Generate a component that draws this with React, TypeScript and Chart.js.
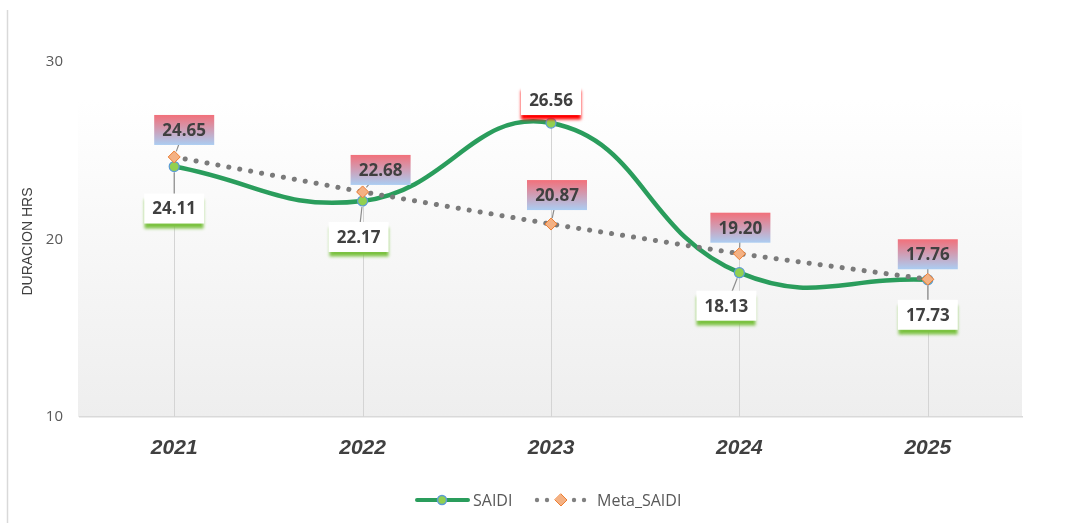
import React, { useEffect, useRef } from "react";
import { Chart, registerables } from "chart.js";

Chart.register(...registerables);

const CATEGORIES = ["2021", "2022", "2023", "2024", "2025"];
const SAIDI = [24.11, 22.17, 26.56, 18.13, 17.73];
const META_SAIDI = [24.65, 22.68, 20.87, 19.2, 17.76];
const Y_MIN = 10;
const Y_MAX = 30;
const Y_STEP = 10;
const Y_TITLE = "DURACION HRS";
const SERIES_NAMES = ["SAIDI", "Meta_SAIDI"];

// label offsets relative to each point (style, not data)
const LABEL_OFFSETS = [
  [[0, 42], [-4, 36], [0, -23], [-13, 33], [0, 35]],
  [[10, -27], [18, -22], [6, -29], [1, -26], [0, -25]],
];

const GREEN = "#2a9d5c";
const FONT = "'Open Sans', 'Liberation Sans', sans-serif";

const decorPlugin = {
  id: "decor",
  beforeDraw(chart: any) {
    const { ctx, chartArea } = chart;
    ctx.save();
    ctx.strokeStyle = "#d9d9d9";
    ctx.lineWidth = 1.5;
    ctx.beginPath();
    ctx.moveTo(7.5, 10);
    ctx.lineTo(7.5, 523);
    ctx.stroke();
    const top = chartArea.top + 38;
    const g = ctx.createLinearGradient(0, top, 0, chartArea.bottom);
    g.addColorStop(0, "#ffffff");
    g.addColorStop(1, "#eeeeee");
    ctx.fillStyle = g;
    ctx.fillRect(chartArea.left - 2, top, chartArea.right - chartArea.left + 2, chartArea.bottom - top);
    ctx.translate(28, (chartArea.top + chartArea.bottom) / 2 + 2);
    ctx.rotate(-Math.PI / 2);
    ctx.fillStyle = "#404040";
    ctx.font = `14px 'Liberation Sans', sans-serif`;
    ctx.textAlign = "center";
    ctx.textBaseline = "middle";
    ctx.fillText(Y_TITLE, 0, 0);
    ctx.restore();
  },
  beforeDatasetsDraw(chart: any) {
    const { ctx, chartArea } = chart;
    const m0 = chart.getDatasetMeta(0).data;
    const m1 = chart.getDatasetMeta(1).data;
    ctx.save();
    ctx.strokeStyle = "#d4d4d4";
    ctx.lineWidth = 1;
    m0.forEach((p: any, i: number) => {
      const yTop = Math.min(p.y, m1[i].y);
      const x = Math.round(p.x) + 0.5;
      ctx.beginPath();
      ctx.moveTo(x, yTop);
      ctx.lineTo(x, chartArea.bottom);
      ctx.stroke();
    });
    ctx.restore();
  },
  afterDatasetsDraw(chart: any) {
    const { ctx } = chart;
    const W = 60, H = 30;
    [0, 1].forEach((di) => {
      const meta = chart.getDatasetMeta(di);
      const values = di === 0 ? SAIDI : META_SAIDI;
      meta.data.forEach((pt: any, i: number) => {
        const [dx, dy] = LABEL_OFFSETS[di][i];
        const cx = pt.x + dx;
        const cy = pt.y + dy;
        const dist = Math.hypot(dx, dy);
        ctx.save();
        ctx.strokeStyle = "#8c8c8c";
        ctx.lineWidth = 1.2;
        ctx.beginPath();
        ctx.moveTo(pt.x + (dx / dist) * 6, pt.y + (dy / dist) * 6);
        ctx.lineTo(cx, cy);
        ctx.stroke();
        ctx.restore();
        const x0 = cx - W / 2, y0 = cy - H / 2;
        ctx.save();
        if (di === 0) {
          ctx.shadowColor = i === 2 ? "#ff0000" : "#7cc242";
          ctx.shadowOffsetY = 5;
          ctx.shadowBlur = 3;
          ctx.fillStyle = "#ffffff";
          ctx.fillRect(x0, y0, W, H);
        } else {
          const g = ctx.createLinearGradient(0, y0, 0, y0 + H);
          g.addColorStop(0, "#f2707a");
          g.addColorStop(1, "#abcdf2");
          ctx.fillStyle = g;
          ctx.fillRect(x0, y0, W, H);
        }
        ctx.restore();
        ctx.save();
        ctx.fillStyle = "#404040";
        ctx.font = `bold 17px ${FONT}`;
        ctx.textAlign = "center";
        ctx.textBaseline = "middle";
        ctx.fillText(values[i].toFixed(2), cx, cy + 1);
        ctx.restore();
      });
    });
  },
  afterDraw(chart: any) {
    const { ctx } = chart;
    const y = 500;
    ctx.save();
    ctx.strokeStyle = GREEN;
    ctx.lineWidth = 4;
    ctx.lineCap = "round";
    ctx.beginPath();
    ctx.moveTo(417, y);
    ctx.lineTo(468, y);
    ctx.stroke();
    ctx.fillStyle = "#92d050";
    ctx.strokeStyle = "#5b9bd5";
    ctx.lineWidth = 1.5;
    ctx.beginPath();
    ctx.arc(442, y, 4.5, 0, Math.PI * 2);
    ctx.fill();
    ctx.stroke();
    ctx.fillStyle = "#595959";
    ctx.font = `16px ${FONT}`;
    ctx.textBaseline = "middle";
    ctx.textAlign = "left";
    ctx.fillText(SERIES_NAMES[0], 473, y + 1);
    ctx.fillStyle = "#808080";
    [537, 547, 574, 584].forEach((x) => {
      ctx.beginPath();
      ctx.arc(x, y, 2.2, 0, Math.PI * 2);
      ctx.fill();
    });
    ctx.fillStyle = "#f4b183";
    ctx.strokeStyle = "#ed7d31";
    ctx.lineWidth = 1;
    ctx.beginPath();
    ctx.moveTo(561, y - 6);
    ctx.lineTo(567, y);
    ctx.lineTo(561, y + 6);
    ctx.lineTo(555, y);
    ctx.closePath();
    ctx.fill();
    ctx.stroke();
    ctx.fillStyle = "#595959";
    ctx.fillText(SERIES_NAMES[1], 597, y + 1);
    ctx.restore();
  },
};

export default function App() {
  const ref = useRef<HTMLCanvasElement>(null);
  useEffect(() => {
    document.body.style.margin = "0";
    const chart = new Chart(ref.current!, {
      type: "line",
      data: {
        labels: CATEGORIES,
        datasets: [
          {
            label: SERIES_NAMES[0],
            data: SAIDI,
            borderColor: GREEN,
            borderWidth: 4.5,
            tension: 0.45,
            pointRadius: 5,
            pointBackgroundColor: "#92d050",
            pointBorderColor: "#5b9bd5",
            pointBorderWidth: 1.2,
            order: 2,
          },
          {
            label: SERIES_NAMES[1],
            data: META_SAIDI,
            borderColor: "#7a7a7a",
            borderWidth: 5,
            borderDash: [0.1, 11],
            borderCapStyle: "round",
            tension: 0,
            pointStyle: "rectRot",
            pointRadius: 6,
            pointBackgroundColor: "#f4b183",
            pointBorderColor: "#ed7d31",
            pointBorderWidth: 1,
            order: 1,
          },
        ],
      },
      options: {
        responsive: false,
        animation: false,
        layout: { padding: { top: 62, right: 54, left: 0, bottom: 0 } },
        plugins: {
          legend: { display: false },
          tooltip: { enabled: false },
        },
        scales: {
          x: {
            offset: true,
            grid: { display: false },
            border: { display: true, color: "#d9d9d9", width: 1.5 },
            ticks: {
              color: "#404040",
              font: { family: "'Liberation Sans', sans-serif", size: 21, weight: "bold", style: "italic" },
              padding: 11,
              maxRotation: 0,
            },
            afterFit: (s: any) => {
              s.height = 106;
            },
          },
          y: {
            min: Y_MIN,
            max: Y_MAX,
            grid: { display: false, drawTicks: false },
            border: { display: false },
            ticks: {
              stepSize: Y_STEP,
              color: "#595959",
              font: { family: FONT, size: 15 },
              padding: 17,
            },
            afterFit: (s: any) => {
              s.width = 80;
            },
          },
        },
      },
      plugins: [decorPlugin],
    } as any);
    return () => chart.destroy();
  }, []);
  return (
    <div style={{ width: 1076, height: 523 }}>
      <canvas ref={ref} width={1076} height={523} />
    </div>
  );
}
